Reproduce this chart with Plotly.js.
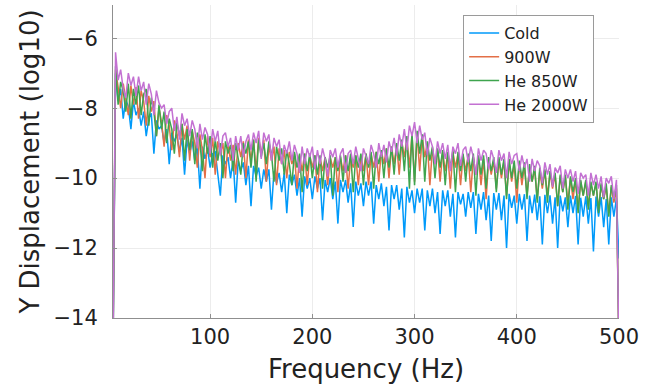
<!DOCTYPE html>
<html>
<head>
<meta charset="utf-8">
<script src="https://cdn.plot.ly/plotly-3.0.1.min.js"></script>
<style>html,body{margin:0;padding:0;background:#fff;}#chart{width:658px;height:386px;}</style>
</head>
<body>
<div id="chart"></div>
<script>
// Frequency axis (Hz)
const freq = [
5,7.5,10,12.5,15,17.5,20,22.5,25,27.5,
30,32.5,35,37.5,40,42.5,45,47.5,50,52.5,
55,57.5,60,62.5,65,67.5,70,72.5,75,77.5,
80,82.5,85,87.5,90,92.5,95,97.5,100,102.5,
105,107.5,110,112.5,115,117.5,120,122.5,125,127.5,
130,132.5,135,137.5,140,142.5,145,147.5,150,152.5,
155,157.5,160,162.5,165,167.5,170,172.5,175,177.5,
180,182.5,185,187.5,190,192.5,195,197.5,200,202.5,
205,207.5,210,212.5,215,217.5,220,222.5,225,227.5,
230,232.5,235,237.5,240,242.5,245,247.5,250,252.5,
255,257.5,260,262.5,265,267.5,270,272.5,275,277.5,
280,282.5,285,287.5,290,292.5,295,297.5,300,302.5,
305,307.5,310,312.5,315,317.5,320,322.5,325,327.5,
330,332.5,335,337.5,340,342.5,345,347.5,350,352.5,
355,357.5,360,362.5,365,367.5,370,372.5,375,377.5,
380,382.5,385,387.5,390,392.5,395,397.5,400,402.5,
405,407.5,410,412.5,415,417.5,420,422.5,425,427.5,
430,432.5,435,437.5,440,442.5,445,447.5,450,452.5,
455,457.5,460,462.5,465,467.5,470,472.5,475,477.5,
480,482.5,485,487.5,490,492.5,495,497.5,500];

// log10 of Y displacement, per series
const cold = [
-15,-7.0,-7.8,-7.45,-8.3,-7.75,-7.95,-8.6,-7.8,-8.2,
-8.0,-8.5,-8.1,-8.8,-8.3,-8.15,-9.3,-8.35,-8.6,-8.5,
-9.0,-8.6,-9.6,-8.7,-8.95,-8.75,-9.25,-8.85,-9.9,-8.9,
-9.3,-8.95,-9.5,-9.1,-10.3,-9.1,-9.45,-9.15,-9.7,-9.3,
-9.25,-9.8,-10.5,-9.35,-9.6,-9.4,-10.0,-9.45,-10.7,-9.5,
-9.8,-9.55,-10.2,-9.65,-10.8,-9.65,-9.95,-9.7,-10.3,-9.75,
-10.1,-9.75,-10.9,-9.8,-10.15,-9.85,-10.4,-9.85,-11.0,-9.9,
-10.2,-9.9,-10.5,-10.0,-11.1,-9.95,-10.3,-10.0,-10.6,-9.95,
-10.3,-10.0,-11.2,-10.05,-10.4,-10.0,-10.6,-10.1,-11.3,-10.05,
-10.4,-10.05,-10.7,-10.15,-11.4,-10.1,-10.5,-10.15,-10.8,-10.1,
-10.5,-10.1,-11.3,-10.2,-10.6,-10.15,-10.8,-10.25,-11.5,-10.2,
-10.6,-10.2,-10.9,-10.3,-11.7,-10.25,-10.7,-10.35,-11.0,-10.3,
-10.7,-10.3,-11.5,-10.35,-10.8,-10.3,-11.0,-10.4,-11.6,-10.35,
-10.8,-10.35,-11.1,-10.45,-11.7,-10.4,-10.75,-10.45,-11.1,-10.4,
-10.85,-10.4,-11.6,-10.45,-10.9,-10.4,-11.2,-10.5,-11.8,-10.43,
-10.9,-10.43,-11.2,-10.5,-12.0,-10.45,-10.85,-10.5,-11.3,-10.45,
-10.9,-10.46,-11.8,-10.5,-11.0,-10.47,-11.2,-10.52,-11.9,-10.48,
-11.0,-10.49,-11.3,-10.55,-12.0,-10.5,-10.95,-10.55,-11.4,-10.5,
-11.0,-10.51,-11.9,-10.56,-11.1,-10.52,-11.3,-10.57,-12.1,-10.53,
-11.1,-10.54,-11.4,-10.6,-11.9,-10.55,-11.1,-10.58,-12.3];

const w900 = [
-15,-6.9,-7.4,-8.0,-7.3,-7.7,-8.2,-7.35,-7.9,-7.4,
-8.3,-7.5,-7.8,-8.5,-7.65,-8.1,-7.8,-8.8,-8.0,-8.4,
-9.1,-8.2,-8.5,-9.2,-8.35,-8.7,-9.4,-8.45,-8.9,-8.5,
-9.5,-8.65,-9.0,-9.7,-8.75,-9.2,-10.0,-8.8,-9.4,-8.85,
-9.9,-8.95,-9.3,-9.0,-10.0,-9.0,-9.5,-9.05,-9.9,-9.0,
-9.4,-8.95,-10.0,-8.9,-9.5,-8.9,-9.8,-8.85,-9.3,-8.9,
-10.1,-9.05,-9.5,-9.1,-10.2,-9.15,-9.6,-9.2,-10.0,-9.25,
-9.6,-9.3,-10.3,-9.35,-9.8,-9.3,-10.2,-9.35,-9.7,-9.35,
-10.4,-9.4,-9.8,-9.4,-10.2,-9.4,-9.7,-9.4,-10.4,-9.4,
-9.8,-9.35,-10.3,-9.4,-9.7,-9.35,-10.2,-9.35,-9.8,-9.3,
-10.2,-9.3,-9.7,-9.25,-10.1,-9.2,-9.6,-9.15,-10.0,-9.1,
-9.6,-9.05,-9.9,-8.95,-9.4,-8.85,-9.7,-8.75,-10.1,-8.7,
-9.8,-8.8,-9.4,-9.0,-10.2,-9.15,-9.6,-9.2,-10.1,-9.25,
-9.8,-9.3,-10.3,-9.25,-9.7,-9.3,-10.2,-9.35,-9.8,-9.35,
-10.4,-9.4,-9.9,-9.4,-10.2,-9.45,-10.6,-9.45,-9.9,-9.5,
-10.3,-9.5,-10.0,-9.5,-10.5,-9.55,-10.1,-9.6,-10.7,-9.55,
-10.2,-9.65,-10.5,-9.7,-10.1,-9.75,-10.6,-9.8,-10.3,-9.8,
-10.5,-9.85,-10.3,-9.9,-10.8,-9.95,-10.4,-9.95,-10.7,-10.0,
-10.6,-10.05,-10.9,-10.1,-10.5,-10.1,-10.8,-10.15,-10.5,-10.15,
-10.9,-10.2,-10.6,-10.25,-11.0,-10.25,-10.7,-10.3,-15];

const he850 = [
-15,-6.8,-7.9,-7.25,-7.5,-8.1,-7.3,-8.3,-7.45,-7.9,
-7.35,-8.2,-7.6,-7.45,-8.5,-7.7,-8.1,-8.8,-7.9,-8.6,
-8.1,-9.0,-8.3,-8.6,-9.3,-8.4,-8.8,-8.45,-9.5,-8.6,
-9.2,-8.6,-9.6,-8.7,-8.95,-9.8,-8.75,-9.3,-8.8,-9.7,
-8.9,-9.5,-9.0,-10.0,-8.95,-9.3,-9.05,-9.8,-9.0,-9.4,
-9.9,-9.0,-9.3,-8.95,-9.7,-8.9,-10.1,-8.9,-9.4,-9.0,
-9.6,-8.95,-9.3,-10.1,-9.1,-9.5,-9.15,-9.9,-9.2,-9.6,
-10.2,-9.25,-9.7,-9.3,-10.4,-9.3,-9.8,-9.3,-10.0,-9.35,
-9.9,-9.35,-10.3,-9.4,-9.7,-9.35,-10.5,-9.4,-9.8,-9.35,
-10.1,-9.35,-9.8,-9.3,-10.4,-9.35,-9.7,-9.3,-10.2,-9.3,
-9.7,-9.25,-10.3,-9.25,-9.6,-9.2,-10.0,-9.15,-9.7,-9.1,
-9.9,-9.0,-9.5,-8.9,-9.8,-8.8,-10.3,-8.7,-10.2,-8.65,
-9.3,-8.75,-10.1,-8.95,-9.5,-9.1,-10.0,-9.15,-9.7,-9.2,
-10.2,-9.25,-9.7,-9.2,-10.4,-9.25,-9.8,-9.3,-10.1,-9.3,
-9.8,-9.3,-10.5,-9.35,-9.9,-9.35,-10.3,-9.4,-9.8,-9.4,
-10.4,-9.4,-9.9,-9.45,-10.6,-9.45,-10.0,-9.5,-10.3,-9.5,
-10.0,-9.55,-10.6,-9.6,-10.1,-9.65,-10.7,-9.7,-10.2,-9.75,
-10.7,-9.8,-10.2,-9.85,-10.8,-9.9,-10.4,-9.9,-10.9,-9.95,
-10.4,-10.0,-11.0,-10.05,-10.5,-10.05,-10.9,-10.1,-10.5,-10.1,
-11.0,-10.15,-10.6,-10.15,-11.1,-10.2,-10.6,-10.2,-15];

const he2000 = [
-15,-6.4,-7.2,-6.9,-7.45,-7.7,-7.0,-7.35,-7.1,-7.65,
-7.1,-7.5,-7.25,-7.9,-7.3,-7.6,-8.2,-7.5,-7.85,-8.0,
-7.9,-8.45,-8.1,-8.0,-8.65,-8.25,-8.9,-8.15,-8.5,-8.3,
-8.8,-8.35,-8.6,-9.15,-8.45,-8.9,-8.55,-8.75,-9.3,-8.6,
-8.95,-8.65,-9.35,-8.8,-8.7,-9.1,-8.85,-9.5,-8.8,-9.2,
-8.8,-9.4,-8.95,-8.75,-9.2,-8.7,-9.0,-8.65,-9.45,-8.7,
-8.95,-8.75,-9.5,-8.85,-9.1,-8.9,-9.6,-9.05,-9.3,-8.95,
-9.5,-9.05,-9.3,-9.85,-9.1,-9.6,-9.15,-9.4,-9.1,-9.75,
-9.2,-9.6,-9.15,-9.45,-9.95,-9.2,-9.4,-9.15,-9.7,-9.3,
-9.15,-9.85,-9.3,-9.2,-9.6,-9.1,-9.45,-9.8,-9.15,-9.35,
-9.6,-9.05,-9.3,-9.7,-9.0,-9.4,-9.05,-9.55,-8.95,-9.25,
-8.85,-9.35,-8.75,-9.1,-8.6,-9.2,-8.5,-8.8,-8.4,-9.0,
-8.5,-8.9,-8.7,-9.35,-8.85,-9.1,-9.6,-8.95,-9.3,-9.0,
-9.45,-9.05,-9.8,-9.1,-9.3,-9.0,-9.65,-9.2,-9.1,-9.55,
-9.1,-9.4,-9.9,-9.15,-9.5,-9.2,-9.3,-9.75,-9.2,-9.45,
-9.85,-9.2,-9.5,-9.3,-10.0,-9.25,-9.6,-9.35,-9.3,-9.8,
-9.35,-9.7,-9.45,-10.1,-9.45,-9.8,-9.5,-9.65,-10.15,-9.55,
-9.9,-9.6,-10.25,-9.7,-9.85,-9.65,-10.3,-9.75,-10.0,-9.75,
-10.1,-9.8,-10.45,-9.85,-10.0,-9.9,-10.5,-9.85,-10.2,-9.9,
-10.3,-9.95,-10.55,-10.0,-10.15,-9.95,-10.6,-10.05,-15];

const seriesNames = ["Cold", "900W", "He 850W", "He 2000W"];
const seriesData = [cold, w900, he850, he2000];
const seriesColors = ["#009AFA", "#E36F47", "#3EA44E", "#C371D2"];
const xTicks = [100, 200, 300, 400, 500];
const yTicks = [-14, -12, -10, -8, -6];

const traces = seriesData.map((ys, i) => ({
  type: "scatter", mode: "lines", x: freq, y: ys, name: seriesNames[i],
  line: {color: seriesColors[i], width: 1.5}
}));

const font = "DejaVu Sans, sans-serif";
const layout = {
  width: 658, height: 386,
  margin: {l: 113, r: 39, t: 5, b: 68},
  paper_bgcolor: "#fff", plot_bgcolor: "#fff",
  font: {family: font, color: "#222"},
  showlegend: true,
  legend: {
    x: 0.692, y: 0.968, xanchor: "left", yanchor: "top",
    bgcolor: "#fff", bordercolor: "#9a9a9a", borderwidth: 1,
    font: {family: font, size: 16, color: "#222"},
    tracegroupgap: 0
  },
  xaxis: {
    range: [5, 500], tickvals: xTicks, ticktext: xTicks.map(String),
    showgrid: true, gridcolor: "#ececec", gridwidth: 1, zeroline: false,
    showline: true, linecolor: "#8f8f8f", linewidth: 1,
    ticks: "inside", ticklen: 4, tickcolor: "#8f8f8f",
    tickfont: {family: font, size: 21, color: "#222"},
    title: {text: "Frequency (Hz)", font: {family: font, size: 26, color: "#222"}, standoff: 11}
  },
  yaxis: {
    range: [-14, -5.05], tickvals: yTicks, ticktext: yTicks.map(v => "\u2212" + Math.abs(v)),
    showgrid: true, gridcolor: "#ececec", gridwidth: 1, zeroline: false,
    showline: true, linecolor: "#8f8f8f", linewidth: 1,
    ticks: "inside", ticklen: 4, tickcolor: "#8f8f8f",
    ticklabelstandoff: 10,
    tickfont: {family: font, size: 21, color: "#222"},
    title: {text: "Y Displacement (log10)", font: {family: font, size: 26, color: "#222"}, standoff: 6}
  }
};

Plotly.newPlot("chart", traces, layout, {displayModeBar: false, staticPlot: true});
</script>
</body>
</html>
